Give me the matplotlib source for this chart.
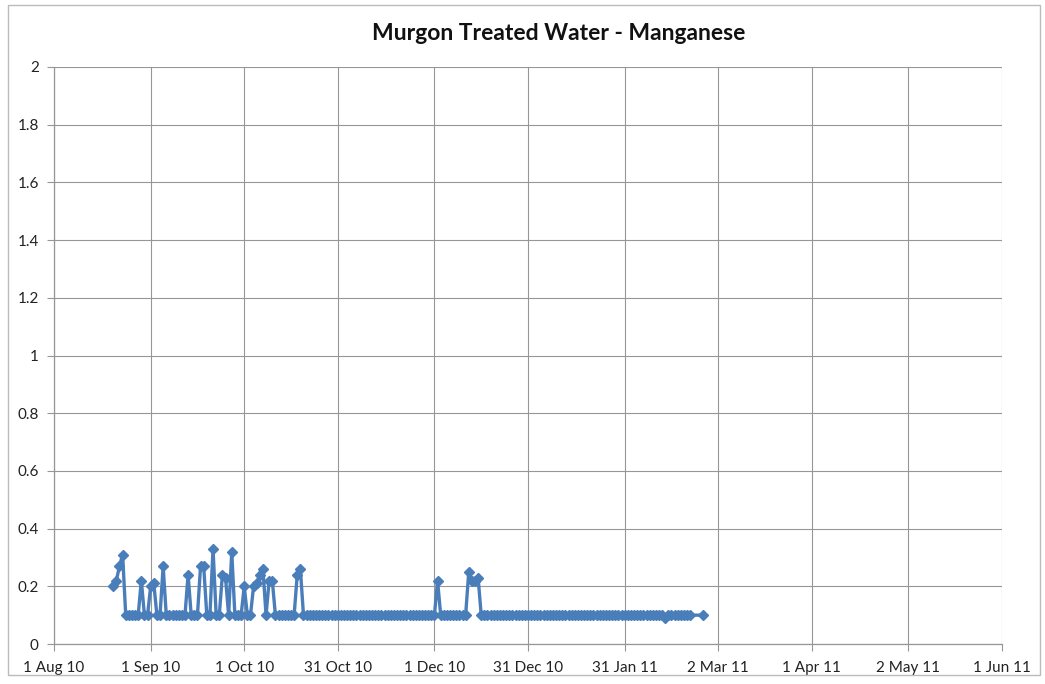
import numpy as np
import pandas as pd
import matplotlib
matplotlib.use("Agg")
import matplotlib.pyplot as plt
import matplotlib.dates as mdates
from matplotlib.patches import Rectangle

# Daily manganese readings, 20 Aug 2010 to 21 Feb 2011
daily_start = "2010-08-20"
daily_end = "2011-02-21"
daily_values = [
    0.2, 0.22, 0.27, 0.31, 0.1, 0.1, 0.1, 0.1, 0.1, 0.22,
    0.1, 0.1, 0.2, 0.21, 0.1, 0.1, 0.27, 0.1, 0.1, 0.1,
    0.1, 0.1, 0.1, 0.1, 0.24, 0.1, 0.1, 0.1, 0.27, 0.27,
    0.1, 0.1, 0.33, 0.1, 0.1, 0.24, 0.23, 0.1, 0.32, 0.1,
    0.1, 0.1, 0.2, 0.1, 0.1, 0.2, 0.21, 0.24, 0.26, 0.1,
    0.22, 0.22, 0.1, 0.1, 0.1, 0.1, 0.1, 0.1, 0.1, 0.24,
    0.26, 0.1, 0.1, 0.1, 0.1, 0.1, 0.1, 0.1, 0.1, 0.1,
    0.1, 0.1, 0.1, 0.1, 0.1, 0.1, 0.1, 0.1, 0.1, 0.1,
    0.1, 0.1, 0.1, 0.1, 0.1, 0.1, 0.1, 0.1, 0.1, 0.1,
    0.1, 0.1, 0.1, 0.1, 0.1, 0.1, 0.1, 0.1, 0.1, 0.1,
    0.1, 0.1, 0.1, 0.1, 0.22, 0.1, 0.1, 0.1, 0.1, 0.1,
    0.1, 0.1, 0.1, 0.1, 0.25, 0.22, 0.22, 0.23, 0.1, 0.1,
    0.1, 0.1, 0.1, 0.1, 0.1, 0.1, 0.1, 0.1, 0.1, 0.1,
    0.1, 0.1, 0.1, 0.1, 0.1, 0.1, 0.1, 0.1, 0.1, 0.1,
    0.1, 0.1, 0.1, 0.1, 0.1, 0.1, 0.1, 0.1, 0.1, 0.1,
    0.1, 0.1, 0.1, 0.1, 0.1, 0.1, 0.1, 0.1, 0.1, 0.1,
    0.1, 0.1, 0.1, 0.1, 0.1, 0.1, 0.1, 0.1, 0.1, 0.1,
    0.1, 0.1, 0.1, 0.1, 0.1, 0.1, 0.1, 0.09, 0.1, 0.1,
    0.1, 0.1, 0.1, 0.1, 0.1, 0.1,
]
# one last reading after a short gap
last_date = "2011-02-25"
last_value = 0.1

tick_dates = ["2010-08-01", "2010-09-01", "2010-10-01", "2010-10-31",
              "2010-12-01", "2010-12-31", "2011-01-31", "2011-03-02",
              "2011-04-01", "2011-05-02", "2011-06-01"]
tick_labels = ["1 Aug 10", "1 Sep 10", "1 Oct 10", "31 Oct 10", "1 Dec 10",
               "31 Dec 10", "31 Jan 11", "2 Mar 11", "1 Apr 11", "2 May 11",
               "1 Jun 11"]
y_ticks = [0, 0.2, 0.4, 0.6, 0.8, 1, 1.2, 1.4, 1.6, 1.8, 2]
y_labels = ["0", "0.2", "0.4", "0.6", "0.8", "1", "1.2", "1.4", "1.6", "1.8", "2"]

plt.rcParams["font.family"] = ["Lato", "DejaVu Sans"]

dates = list(pd.date_range(daily_start, daily_end)) + [pd.Timestamp(last_date)]
values = daily_values + [last_value]

fig = plt.figure(figsize=(10.45, 6.84), dpi=100)
ax = fig.add_axes([54 / 1045, 1 - 644 / 684, 948 / 1045, 577 / 684])

blue = "#4A7EBB"
ax.plot(dates, values, color=blue, lw=2.4, marker="D", ms=5.5,
        markeredgecolor=blue, markerfacecolor=blue, zorder=3)

ax.set_xlim(pd.Timestamp(tick_dates[0]), pd.Timestamp(tick_dates[-1]))
ax.set_ylim(0, 2)
ax.set_xticks([mdates.date2num(pd.Timestamp(d)) for d in tick_dates])
ax.set_xticklabels(tick_labels)
ax.set_yticks(y_ticks)
ax.set_yticklabels(y_labels)

grid_col = "#969696"
ax.grid(True, color=grid_col, lw=0.8)
ax.set_axisbelow(True)
for side in ["top", "right"]:
    ax.spines[side].set_visible(False)
for side in ["left", "bottom"]:
    ax.spines[side].set_color(grid_col)
    ax.spines[side].set_linewidth(0.9)
ax.tick_params(axis="both", colors=grid_col, labelcolor="#222222",
               labelsize=11, length=5, width=0.8)
ax.tick_params(axis="y", pad=6)
ax.tick_params(axis="x", pad=7)

fig.text(559 / 1045, 1 - 34 / 684, "Murgon Treated Water - Manganese",
         ha="center", va="center", fontsize=16.5, fontweight="bold",
         color="#111111")

# outer chart border
fig.patches.append(Rectangle((8 / 1045, 1 - 675 / 684), 1032 / 1045, 670 / 684,
                             transform=fig.transFigure, fill=False,
                             edgecolor="#BBBBBB", lw=1))

fig.savefig("out.png", dpi=100)
